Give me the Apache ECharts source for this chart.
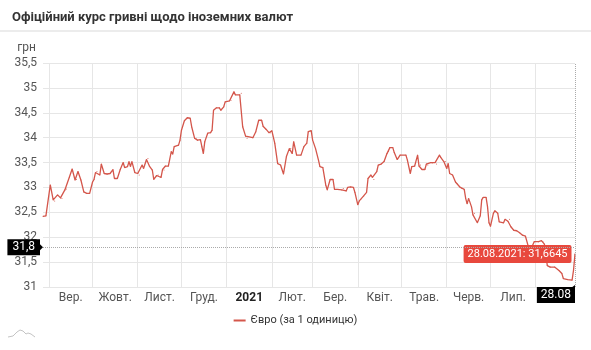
<!DOCTYPE html>
<html>
<head>
<meta charset="utf-8">
<script src="https://cdn.jsdelivr.net/npm/echarts@6/dist/echarts.min.js"></script>
<style>
  html, body { margin: 0; padding: 0; background: #fff; }
  #chart { width: 591px; height: 350px; }
</style>
</head>
<body>
<div id="chart"></div>
<script>
// Офіційний курс євро (грн за 1 одиницю), 28.08.2020 – 28.08.2021
const dates = [
  '2020-08-28','2020-08-30','2020-09-02','2020-09-04','2020-09-05','2020-09-07','2020-09-09','2020-09-10',
  '2020-09-12','2020-09-13','2020-09-15','2020-09-17','2020-09-19','2020-09-20','2020-09-21','2020-09-23',
  '2020-09-25','2020-09-27','2020-09-29','2020-10-01','2020-10-02','2020-10-03','2020-10-04','2020-10-06',
  '2020-10-07','2020-10-09','2020-10-11','2020-10-13','2020-10-15','2020-10-16','2020-10-18','2020-10-20',
  '2020-10-22','2020-10-23','2020-10-25','2020-10-26','2020-10-27','2020-10-28','2020-10-30','2020-11-01',
  '2020-11-02','2020-11-04','2020-11-05','2020-11-07','2020-11-08','2020-11-09','2020-11-11','2020-11-12',
  '2020-11-14','2020-11-15','2020-11-17','2020-11-18','2020-11-19','2020-11-20','2020-11-22','2020-11-24',
  '2020-11-25','2020-11-26','2020-11-29','2020-11-30','2020-12-01','2020-12-03','2020-12-05','2020-12-07',
  '2020-12-08','2020-12-10','2020-12-11','2020-12-12','2020-12-14','2020-12-15','2020-12-16','2020-12-17',
  '2020-12-19','2020-12-21','2020-12-22','2020-12-23','2020-12-25','2020-12-27','2020-12-28','2020-12-30',
  '2020-12-31','2021-01-03','2021-01-04','2021-01-06','2021-01-07','2021-01-10','2021-01-11','2021-01-12',
  '2021-01-14','2021-01-15','2021-01-19','2021-01-21','2021-01-23','2021-01-25','2021-01-26','2021-01-28',
  '2021-01-30','2021-01-31','2021-02-01','2021-02-03','2021-02-05','2021-02-07','2021-02-09','2021-02-11',
  '2021-02-13','2021-02-14','2021-02-15','2021-02-16','2021-02-18','2021-02-21','2021-02-23','2021-02-25',
  '2021-02-26','2021-02-28','2021-03-01','2021-03-03','2021-03-05','2021-03-06','2021-03-08','2021-03-10',
  '2021-03-11','2021-03-13','2021-03-15','2021-03-16','2021-03-18','2021-03-21','2021-03-22','2021-03-24',
  '2021-03-25','2021-03-27','2021-03-29','2021-03-30','2021-04-01','2021-04-02','2021-04-03','2021-04-05',
  '2021-04-07','2021-04-08','2021-04-10','2021-04-11','2021-04-12','2021-04-14','2021-04-15','2021-04-17',
  '2021-04-19','2021-04-21','2021-04-22','2021-04-23','2021-04-25','2021-04-26','2021-04-28','2021-04-30',
  '2021-05-04','2021-05-05','2021-05-07','2021-05-08','2021-05-10','2021-05-12','2021-05-13','2021-05-14',
  '2021-05-15','2021-05-17','2021-05-18','2021-05-19','2021-05-21','2021-05-22','2021-05-24','2021-05-25',
  '2021-05-27','2021-05-28','2021-05-30','2021-05-31','2021-06-01','2021-06-02','2021-06-03','2021-06-05',
  '2021-06-07','2021-06-08','2021-06-10','2021-06-11','2021-06-13','2021-06-14','2021-06-15','2021-06-16',
  '2021-06-18','2021-06-19','2021-06-20','2021-06-22','2021-06-24','2021-06-25','2021-06-26','2021-06-28',
  '2021-06-29','2021-06-30','2021-07-01','2021-07-03','2021-07-04','2021-07-06','2021-07-07','2021-07-10',
  '2021-07-11','2021-07-13','2021-07-14','2021-07-15','2021-07-17','2021-07-19','2021-07-21','2021-07-23',
  '2021-07-25','2021-07-27','2021-07-29','2021-07-31','2021-08-03','2021-08-05','2021-08-06','2021-08-07',
  '2021-08-09','2021-08-11','2021-08-14','2021-08-17','2021-08-19','2021-08-20','2021-08-23','2021-08-26',
  '2021-08-27','2021-08-28'
];
const euroRates = [
  32.42, 32.43, 33.05, 32.75, 32.73, 32.85, 32.79, 32.78,
  32.95, 32.97, 33.20, 33.37, 33.15, 33.16, 33.32, 33.15,
  32.91, 32.88, 32.88, 33.11, 33.16, 33.30, 33.32, 33.25,
  33.47, 33.28, 33.27, 33.28, 33.36, 33.18, 33.18, 33.36,
  33.50, 33.40, 33.42, 33.52, 33.42, 33.52, 33.30, 33.28,
  33.25, 33.45, 33.38, 33.56, 33.58, 33.43, 33.35, 33.16,
  33.24, 33.25, 33.20, 33.36, 33.35, 33.43, 33.43, 33.72,
  33.67, 33.82, 33.85, 33.95, 34.15, 34.34, 34.40, 34.39,
  34.22, 33.99, 33.99, 33.95, 33.96, 33.82, 33.68, 33.92,
  34.09, 34.10, 34.15, 34.55, 34.60, 34.60, 34.55, 34.62,
  34.72, 34.74, 34.75, 34.92, 34.86, 34.86, 34.89, 34.22,
  34.03, 33.99, 34.00, 34.12, 34.35, 34.35, 34.23, 34.17,
  34.10, 34.10, 34.14, 33.89, 33.48, 33.45, 33.27, 33.62,
  33.78, 33.78, 33.68, 33.92, 33.65, 33.65, 33.82, 33.89,
  34.12, 34.14, 33.95, 33.78, 33.55, 33.42, 33.40, 33.05,
  32.95, 33.16, 33.16, 32.96, 32.96, 32.95, 32.98, 32.93,
  33.00, 33.01, 33.00, 32.90, 32.65, 32.73, 32.76, 32.83,
  32.90, 33.18, 33.25, 33.20, 33.16, 33.32, 33.45, 33.47,
  33.52, 33.68, 33.72, 33.80, 33.80, 33.70, 33.56, 33.65,
  33.65, 33.55, 33.28, 33.42, 33.43, 33.65, 33.43, 33.45,
  33.36, 33.36, 33.47, 33.45, 33.50, 33.49, 33.50, 33.47,
  33.65, 33.60, 33.52, 33.52, 33.38, 33.48, 33.28, 33.25,
  33.11, 33.08, 33.01, 32.98, 32.96, 32.78, 32.67, 32.78,
  32.61, 32.45, 32.48, 32.29, 32.43, 32.75, 32.80, 32.80,
  32.61, 32.29, 32.22, 32.48, 32.53, 32.48, 32.31, 32.29,
  32.36, 32.32, 32.36, 32.21, 32.14, 32.13, 32.09, 32.04,
  32.02, 31.81, 31.78, 31.91, 31.91, 31.93, 31.91, 31.86,
  31.43, 31.40, 31.40, 31.33, 31.27, 31.17, 31.15, 31.14,
  31.34, 31.6645
];

// Month boundaries (vertical grid) and the month captions placed between them
const monthStarts = [
  '2020-09-01','2020-10-01','2020-11-01','2020-12-01','2021-01-01','2021-02-01',
  '2021-03-01','2021-04-01','2021-05-01','2021-06-01','2021-07-01','2021-08-01'
];
const monthLabels = ['Вер.', 'Жовт.', 'Лист.', 'Груд.', '2021', 'Лют.', 'Бер.', 'Квіт.', 'Трав.', 'Черв.', 'Лип.'];
const yearLabel = '2021';

const periodStart = '2020-08-28';
const periodEnd = '2021-08-28';
const cursorDateLabel = '28.08';
const cursorRate = 31.8;

const yMin = 31, yMax = 35.5, yStep = 0.5;

const seriesName = 'Євро (за 1 одиницю)';
const titleText = 'Офіційний курс гривні щодо іноземних валют';
const unitText = 'грн';

const FONT = 'Roboto, "Noto Sans", sans-serif';
const LINE_COLOR = '#d4564b';
const BADGE_COLOR = '#e8483d';

const ts = s => new Date(s + 'T00:00:00').getTime();
const comma = v => String(v).replace('.', ',');
const dmy = t => {
  const d = new Date(t);
  const p = n => String(n).padStart(2, '0');
  return p(d.getDate()) + '.' + p(d.getMonth() + 1) + '.' + d.getFullYear();
};

const monthStartTs = monthStarts.map(ts);
const labelTs = monthLabels.map((_, i) => Math.round((monthStartTs[i] + monthStartTs[i + 1]) / 2));
const labelByTs = {};
labelTs.forEach((t, i) => { labelByTs[t] = monthLabels[i]; });

const seriesData = dates.map((d, i) => {
  const point = [ts(d), euroRates[i]];
  if (i === dates.length - 1) {
    return {
      value: point,
      label: {
        show: true,
        position: 'left',
        distance: 3,
        formatter: p => dmy(p.value[0]) + ': ' + comma(p.value[1]),
        color: '#fff',
        backgroundColor: BADGE_COLOR,
        borderRadius: 2,
        padding: [4, 4, 3, 4],
        fontSize: 11,
        fontFamily: FONT
      }
    };
  }
  return point;
});

const chart = echarts.init(document.getElementById('chart'), null, { renderer: 'canvas' });

chart.setOption({
  animation: false,
  backgroundColor: '#fff',
  title: {
    text: titleText,
    left: 7,
    top: 6,
    textStyle: { fontFamily: FONT, fontSize: 13, fontWeight: 'bold', color: '#333' }
  },
  legend: {
    data: [seriesName],
    left: 'center',
    top: 310,
    icon: 'rect',
    itemWidth: 12,
    itemHeight: 2,
    textStyle: { fontFamily: FONT, fontSize: 11, color: '#333' }
  },
  grid: { left: 43, right: 16, top: 63, bottom: 63 },
  xAxis: {
    type: 'value',
    min: ts(periodStart),
    max: ts(periodEnd),
    axisLine: { show: false },
    axisTick: { show: false, customValues: monthStartTs },
    splitLine: { show: true, lineStyle: { color: '#e6e6e6', width: 1 } },
    axisLabel: {
      customValues: labelTs,
      margin: 5,
      fontFamily: FONT,
      fontSize: 12,
      color: '#555',
      formatter: v => {
        const t = labelByTs[v] || '';
        return t === yearLabel ? '{b|' + t + '}' : t;
      },
      rich: {
        b: { fontFamily: FONT, fontSize: 12, fontWeight: 'bold', color: '#222' }
      }
    }
  },
  yAxis: {
    type: 'value',
    min: yMin,
    max: yMax,
    interval: yStep,
    name: unitText,
    nameLocation: 'end',
    nameGap: 9,
    nameTextStyle: { fontFamily: FONT, fontSize: 12, color: '#555', align: 'right', padding: [0, 7, 0, 0] },
    axisLine: { show: false },
    axisTick: { show: false },
    splitLine: { lineStyle: { color: '#e6e6e6', width: 1 } },
    axisLabel: {
      margin: 6,
      fontFamily: FONT,
      fontSize: 12,
      color: '#555',
      formatter: v => comma(v)
    }
  },
  series: [{
    name: seriesName,
    type: 'line',
    data: seriesData,
    symbol: 'circle',
    symbolSize: 1,
    showSymbol: true,
    itemStyle: { color: LINE_COLOR },
    lineStyle: { color: LINE_COLOR, width: 1.3 },
    label: { show: false },
    markLine: {
      silent: true,
      symbol: 'none',
      label: { show: false },
      lineStyle: { color: '#aaa', type: 'dotted', width: 1 },
      data: [{ yAxis: cursorRate }, { xAxis: ts(periodEnd) }]
    },
    z: 3
  }]
});

// Crosshair captions on the axes, anchored through the chart's own scales
const cx = chart.convertToPixel({ xAxisIndex: 0 }, ts(periodEnd));
const cy = chart.convertToPixel({ yAxisIndex: 0 }, cursorRate);
const axisBottom = chart.convertToPixel({ yAxisIndex: 0 }, yMin);
const axisLeft = chart.convertToPixel({ xAxisIndex: 0 }, ts(periodStart));

chart.setOption({
  graphic: [
    {
      type: 'rect', left: 0, top: 30, z: 50,
      shape: { width: 591, height: 2 },
      style: { fill: '#ececec' }
    },
    {
      type: 'polyline', z: 50,
      shape: { points: [[8, 337], [13, 336], [17, 332], [20, 330], [23, 331], [26, 334], [28, 333], [31, 334], [35, 337]] },
      style: { stroke: '#c4c4c4', lineWidth: 1, fill: null }
    },
    {
      type: 'polygon', z: 60,
      shape: { points: [[axisLeft - 4, cy - 4], [axisLeft, cy], [axisLeft - 4, cy + 4]] },
      style: { fill: '#000' }
    },
    {
      type: 'text', z: 61, x: axisLeft - 3, y: cy,
      style: {
        text: comma(cursorRate), fill: '#fff', backgroundColor: '#000',
        padding: [2, 5, 2, 5], font: '12px ' + FONT, align: 'right', verticalAlign: 'middle'
      }
    },
    {
      type: 'polygon', z: 60,
      shape: { points: [[cx - 4, axisBottom + 1], [cx, axisBottom - 2], [cx, axisBottom + 1]] },
      style: { fill: '#000' }
    },
    {
      type: 'text', z: 61, x: cx, y: axisBottom,
      style: {
        text: cursorDateLabel, fill: '#fff', backgroundColor: '#000',
        padding: [2, 4, 2, 4], font: '12px ' + FONT, align: 'right', verticalAlign: 'top'
      }
    }
  ]
});
</script>
</body>
</html>
